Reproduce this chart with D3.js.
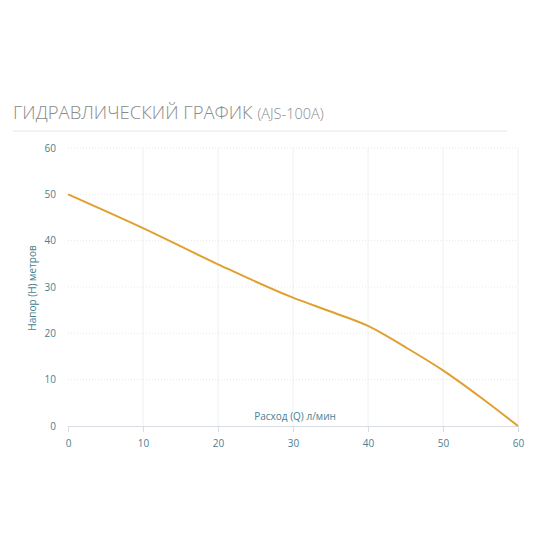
<!DOCTYPE html>
<html><head><meta charset="utf-8">
<script src="https://cdn.jsdelivr.net/npm/d3@7"></script>
<style>body{margin:0;background:#fff;}</style>
</head><body>
<svg id="c" width="550" height="550"></svg>
<script>
const flow = [0, 10, 20, 30, 35, 40, 45, 50, 55, 60];
const head = [50, 42.7, 34.9, 27.7, 24.7, 21.6, 17.0, 12.0, 6.2, 0];
const xTicks = [0, 10, 20, 30, 40, 50, 60];
const yTicks = [0, 10, 20, 30, 40, 50, 60];
const titleMain = "ГИДРАВЛИЧЕСКИЙ ГРАФИК";
const titleSub = "(AJS-100A)";
const xLabel = "Расход (Q) л/мин";
const yLabel = "Напор (Н) метров";

const svg = d3.select("#c");
const x = d3.scaleLinear().domain([0, 60]).range([68, 518]);
const y = d3.scaleLinear().domain([0, 60]).range([426, 148]);
const font = "'Open Sans', 'DejaVu Sans', sans-serif";
const labelColor = "#4a8090";

// title
const t = svg.append("text").attr("x", 13).attr("y", 119)
  .attr("font-family", font).attr("fill", "#8a8a8a").attr("font-weight", 300);
t.append("tspan").attr("font-size", 18.5).text(titleMain + " ");
t.append("tspan").attr("font-size", 14.5).text(titleSub);
svg.append("line").attr("x1", 13).attr("x2", 507).attr("y1", 131).attr("y2", 131)
  .attr("stroke", "#e6e6e6").attr("stroke-width", 1);

// grid
svg.append("g").selectAll("line").data(xTicks.slice(1)).join("line")
  .attr("x1", d => x(d)).attr("x2", d => x(d)).attr("y1", y(60)).attr("y2", y(0))
  .attr("stroke", "#f0f0f0").attr("stroke-width", 1);
svg.append("g").selectAll("line").data(yTicks.slice(1)).join("line")
  .attr("x1", x(0)).attr("x2", x(60)).attr("y1", d => y(d)).attr("y2", d => y(d))
  .attr("stroke", "#e8e8e8").attr("stroke-width", 1).attr("stroke-dasharray", "1,2");

// x axis
const xa = svg.append("g").attr("transform", `translate(0,${y(0)})`)
  .call(d3.axisBottom(x).tickValues(xTicks).tickSize(6).tickPadding(8).tickSizeOuter(0));
xa.select(".domain").attr("stroke", "#d8dde3");
xa.selectAll(".tick line").attr("stroke", "#d8dde3");
xa.selectAll("text").attr("fill", labelColor).attr("font-size", 10).attr("font-family", font);

// y axis labels
const ya = svg.append("g").attr("transform", `translate(${x(0)},0)`)
  .call(d3.axisLeft(y).tickValues(yTicks).tickSize(0).tickPadding(12));
ya.select(".domain").remove();
ya.selectAll("text").attr("fill", labelColor).attr("font-size", 10).attr("font-family", font);

// axis titles
svg.append("text").attr("x", 295).attr("y", 420).attr("text-anchor", "middle")
  .attr("font-family", font).attr("font-size", 10).attr("fill", labelColor).text(xLabel);
svg.append("text").attr("transform", "translate(36,288) rotate(-90)").attr("text-anchor", "middle")
  .attr("font-family", font).attr("font-size", 10).attr("fill", labelColor).text(yLabel);

// curve
const data = flow.map((f, i) => ({f, h: head[i]}));
svg.append("path").datum(data)
  .attr("d", d3.line().x(d => x(d.f)).y(d => y(d.h)).curve(d3.curveMonotoneX))
  .attr("fill", "none").attr("stroke", "#e0a030").attr("stroke-width", 2);
</script>
</body></html>
